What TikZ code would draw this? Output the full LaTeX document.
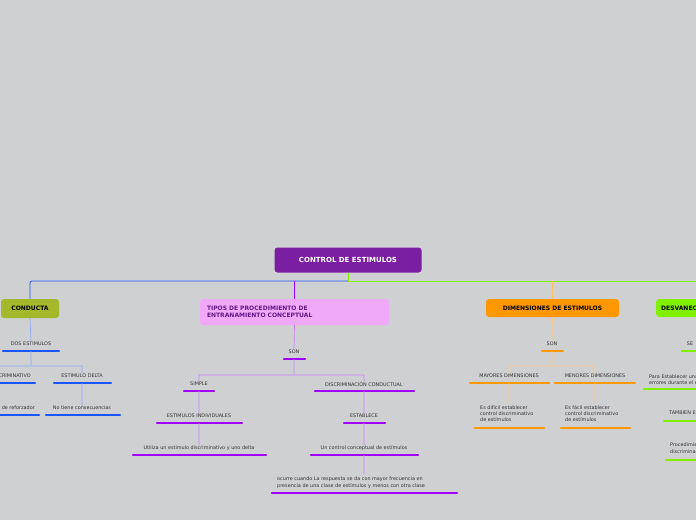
\documentclass[tikz,border=0pt]{standalone}
\usepackage{fontspec}
\setmainfont{DejaVu Sans}
\usetikzlibrary{calc}
\definecolor{bgc}{HTML}{CFD0D2}
\definecolor{cblue}{HTML}{1A55FF}
\definecolor{cpur}{HTML}{A000FF}
\definecolor{corg}{HTML}{FF9800}
\definecolor{cgrn}{HTML}{80F000}
\definecolor{croot}{HTML}{7B1FA2}
\definecolor{colive}{HTML}{A4B82C}
\definecolor{cpink}{HTML}{F0A8F8}
\tikzset{
  x=1pt,y=-1pt,
  topic/.style={rounded corners=3pt,inner sep=0pt,font=\fontsize{6}{7}\selectfont\bfseries},
  txt/.style={font=\fontsize{4.9}{6.3}\selectfont,text=black!80,inner sep=0pt},
  ul/.style={line width=2.4pt,line cap=round},
  con/.style={line width=0.7pt}
}
\begin{document}
\begin{tikzpicture}
  \fill[bgc] (0,0) rectangle (696,520);
  \useasboundingbox (0,0) rectangle (696,520);
  % root
  \node[topic,fill=croot,text=white,minimum width=147pt,minimum height=25pt,font=\fontsize{7}{8}\selectfont\bfseries] (root) at (348,260) {CONTROL DE ESTIMULOS};
  \draw[con,color=cgrn] (root.south) -- (348,281) -- (696,281);
  \draw[con,color=cblue,rounded corners=2pt] (348,281) -- (30,281) -- (30,299);
  \draw[con,color=cpur] (294.5,281) -- (294.5,299);
  \draw[con,color=corg!60] (552,281) -- (552,299);
  % conducta
  \node[topic,fill=colive,minimum width=58pt,minimum height=19pt] (cond) at (30,308.5) {CONDUCTA};
  \node[txt] (dos) at (31,344) {DOS ESTIMULOS};
  \node[txt,anchor=east] (disc) at (31,376) {ESTIMULO DISCRIMINATIVO};
  \node[txt] (delta) at (82,376) {ESTIMULO DELTA};
  \node[txt,anchor=east] (refz) at (35,408) {Presencia de reforzador};
  \node[txt] (noti) at (82,408) {No tiene consecuencias};
  \draw[ul,cblue] (3,351) -- (59,351) (0,383) -- (35,383) (54,383) -- (111,383)
    (0,415) -- (39,415) (46,415) -- (120,415);
  \draw[con,cblue!50] (cond.south) -- (dos.north) (31,351) -- (31,366) -- (0,366)
    (31,366) -- (82,366) -- (delta.north) (82,383) -- (noti.north);
  % tipos
  \node[topic,fill=cpink,minimum width=189pt,minimum height=26pt,text=croot!80!black,align=left,text width=175pt] (tipos) at (294.5,312) {TIPOS DE PROCEDIMIENTO DE\\ENTRANAMIENTO CONCEPTUAL};
  \node[txt] (son1) at (294,352) {SON};
  \node[txt] (simp) at (199,384) {SIMPLE};
  \node[txt] (indiv) at (199,416) {ESTIMULOS INDIVIDUALES};
  \node[txt] (util) at (199,448) {Utiliza un estimulo discriminativo y uno delta};
  \node[txt] (dcond) at (364,384) {DISCRIMINACIÓN CONDUCTUAL};
  \node[txt] (estab) at (364,416) {ESTABLECE};
  \node[txt] (unco) at (364,448) {Un control conceptual de estímulos};
  \node[txt,align=left,anchor=north west] (ocur) at (277,477) {ocurre cuando La respuesta se da con mayor frecuencia en\\presencia de una clase de estímulos y menos con otra clase};
  \draw[ul,cpur] (284,359) -- (305,359) (184,391) -- (214,391) (157,423) -- (242,423)
    (133,455) -- (266,455) (315,391) -- (414,391) (344,423) -- (385,423)
    (311,455) -- (418,455) (272,493) -- (457,493);
  \draw[con,cpur!50] (tipos.south) -- (son1.north) (294,359) -- (294,375) -- (199,375) -- (simp.north)
    (294,375) -- (364,375) -- (dcond.north) (199,391) -- (indiv.north) (199,423) -- (util.north)
    (364,391) -- (estab.north) (364,423) -- (unco.north) (364,455) -- (364,474);
  % dimensiones
  \node[topic,fill=corg,minimum width=133pt,minimum height=18pt] (dim) at (552.5,308) {DIMENSIONES DE ESTIMULOS};
  \node[txt] (son2) at (552,344) {SON};
  \node[txt] (may) at (509,376) {MAYORES DIMENSIONES};
  \node[txt] (men) at (595,376) {MENORES DIMENSIONES};
  \node[txt,align=left,anchor=north west] (dif) at (480,405) {Es difícil establecer\\control discriminativo\\de estímulos};
  \node[txt,align=left,anchor=north west] (fac) at (565,405) {Es fácil establecer\\control discriminativo\\de estímulos};
  \draw[ul,corg] (542,351) -- (563,351) (470,383) -- (549,383) (555,383) -- (635,383)
    (475,428) -- (544,428) (561,428) -- (630,428);
  \draw[con,corg!50] (dim.south) -- (son2.north) (552,351) -- (552,366) -- (509,366) -- (may.north)
    (552,366) -- (595,366) -- (men.north) (509,383) -- (509,402) (595,383) -- (595,402);
  % desvanecimiento
  \node[topic,fill=cgrn,minimum width=80pt,minimum height=18pt,anchor=west,text width=70pt] (desv) at (656,308) {DESVANECIMIENTO};
  \node[txt] (se) at (690,344) {SE};
  \node[txt,align=left,anchor=north west] (para) at (649,374) {Para Establecer una discriminación sin\\errores durante el entrenamiento};
  \node[txt,anchor=west] (tamb) at (669,413) {TAMBIEN ES};
  \node[txt,align=left,anchor=north west] (proc) at (670,443) {Procedimiento de\\discriminación};
  \draw[ul,cgrn] (682,351) -- (700,351) (644,389) -- (700,389) (664,421) -- (700,421) (666,460) -- (700,460);
\end{tikzpicture}
\end{document}
